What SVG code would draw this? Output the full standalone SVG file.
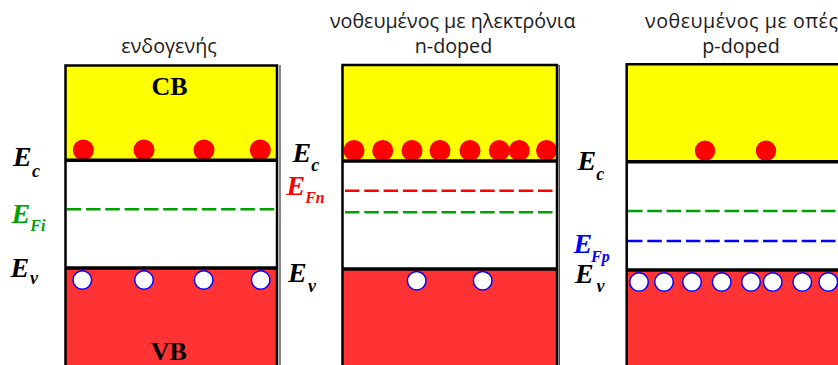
<svg xmlns="http://www.w3.org/2000/svg" width="838" height="365" viewBox="0 0 838 365">
<style>
.cb{fill:#ffff00}
.gap{fill:#ffffff}
.vb{fill:#ff3333}
.frame{fill:none;stroke:#000;stroke-width:2.5}
.edge{fill:none;stroke:#000;stroke-width:3.5}
.sep{fill:none;stroke:#444;stroke-width:1.3}
.dash{fill:none;stroke-width:2.6;stroke-dasharray:14.5 4.8}
.g{stroke:#00a000}
.r{stroke:#ff0000}
.b{stroke:#0000ff}
.el{fill:#ff0000}
.hole{fill:#fff;stroke:#0000ff;stroke-width:1.5}
.title{font-family:"Open Sans","Noto Sans",sans-serif;font-size:19.7px;fill:#1a1a1a;text-anchor:middle}
.band{font-family:"Liberation Serif","Times New Roman",serif;font-weight:bold;font-size:26px;fill:#000;text-anchor:middle}
.E{font-family:"Liberation Serif","Times New Roman",serif;font-weight:bold;font-style:italic;font-size:28px}
.sub{font-family:"Liberation Serif","Times New Roman",serif;font-weight:bold;font-style:italic;font-size:18px}
.sub2{font-family:"Liberation Serif","Times New Roman",serif;font-weight:bold;font-style:italic;font-size:16px}
</style>

<g id="separators">
  <path class="sep" d="M280,65 V365"/>
  <path class="sep" d="M559.3,65 V365"/>
</g>

<g id="panel-intrinsic">
  <text class="title" x="169" y="53">ενδογενής</text>
  <rect class="cb" x="65.5" y="65.5" width="211.5" height="95"/>
  <rect class="gap" x="65.5" y="160.3" width="211.5" height="107.7"/>
  <rect class="vb" x="65.5" y="268" width="211.5" height="100"/>
  <path class="dash g" d="M66.7,209.3 H276"/>
  <circle class="el" cx="83.3" cy="150" r="10.5"/>
  <circle class="el" cx="144" cy="150" r="10.5"/>
  <circle class="el" cx="204" cy="150" r="10.5"/>
  <circle class="el" cx="260.3" cy="150" r="10.5"/>
  <path class="frame" d="M65.5,368 V65.5 H277 V368"/>
  <path class="edge" d="M65.5,160.3 H277"/>
  <path class="edge" d="M65.5,268 H277"/>
  <circle class="hole" cx="82.3" cy="280" r="9.3"/>
  <circle class="hole" cx="144" cy="280" r="9.3"/>
  <circle class="hole" cx="203.7" cy="280" r="9.3"/>
  <circle class="hole" cx="260.7" cy="280" r="9.3"/>
  <text class="band" x="169.5" y="95">CB</text>
  <text class="band" x="168.7" y="360">VB</text>
  <text class="E" x="13" y="165.5" fill="#000">E</text><text class="sub" x="32" y="176.5" fill="#000">c</text>
  <text class="E" x="11.5" y="222.7" fill="#00a000">E</text><text class="sub2" x="30.3" y="230.5" fill="#00a000">Fi</text>
  <text class="E" x="10.5" y="276.5" fill="#000">E</text><text class="sub" x="30" y="284" fill="#000">v</text>
</g>

<g id="panel-ndoped">
  <text class="title" x="452.7" y="28">νοθευμένος με ηλεκτρόνια</text>
  <text class="title" x="453.5" y="53">n-doped</text>
  <rect class="cb" x="342.5" y="65" width="214.5" height="96"/>
  <rect class="gap" x="342.5" y="161" width="214.5" height="108"/>
  <rect class="vb" x="342.5" y="269" width="214.5" height="100"/>
  <path class="dash r" d="M345,190.7 H556"/>
  <path class="dash g" d="M345,212.3 H556"/>
  <circle class="el" cx="354" cy="150.5" r="10.5"/>
  <circle class="el" cx="382.7" cy="150.5" r="10.5"/>
  <circle class="el" cx="412" cy="150.5" r="10.5"/>
  <circle class="el" cx="440" cy="150.5" r="10.5"/>
  <circle class="el" cx="470" cy="150.5" r="10.5"/>
  <circle class="el" cx="499.3" cy="150.5" r="10.5"/>
  <circle class="el" cx="519.3" cy="150.5" r="10.5"/>
  <circle class="el" cx="546.5" cy="150.5" r="10.5"/>
  <path class="frame" d="M342.5,368 V65 H557 V368"/>
  <path class="edge" d="M342.5,161 H557"/>
  <path class="edge" d="M342.5,269 H557"/>
  <circle class="hole" cx="416.7" cy="280.7" r="9.3"/>
  <circle class="hole" cx="482.7" cy="280.7" r="9.3"/>
  <text class="E" x="292.5" y="161.7" fill="#000">E</text><text class="sub" x="311.3" y="170.5" fill="#000">c</text>
  <text class="E" x="286.5" y="195" fill="#ff0000">E</text><text class="sub2" x="305.2" y="203" fill="#ff0000">Fn</text>
  <text class="E" x="288" y="281.7" fill="#000">E</text><text class="sub" x="308" y="292" fill="#000">v</text>
</g>

<g id="panel-pdoped">
  <text class="title" x="645" y="28" style="text-anchor:start;letter-spacing:0.5px">νοθευμένος με οπές</text>
  <text class="title" x="741" y="53">p-doped</text>
  <rect class="cb" x="626.7" y="64.3" width="215" height="97.4"/>
  <rect class="gap" x="626.7" y="161.7" width="215" height="108.3"/>
  <rect class="vb" x="626.7" y="270" width="215" height="100"/>
  <path class="dash g" d="M628,211 H840"/>
  <path class="dash b" d="M628,241 H840"/>
  <circle class="el" cx="705" cy="150.7" r="10.2"/>
  <circle class="el" cx="766" cy="150.7" r="10.2"/>
  <path class="frame" d="M626.7,368 V64.3 H842"/>
  <path class="edge" d="M626.7,161.7 H842"/>
  <path class="edge" d="M626.7,270 H842"/>
  <circle class="hole" cx="639" cy="282" r="9.3"/>
  <circle class="hole" cx="664" cy="282" r="9.3"/>
  <circle class="hole" cx="692" cy="282" r="9.3"/>
  <circle class="hole" cx="721.7" cy="282" r="9.3"/>
  <circle class="hole" cx="751" cy="282" r="9.3"/>
  <circle class="hole" cx="772.7" cy="282" r="9.3"/>
  <circle class="hole" cx="802.3" cy="282" r="9.3"/>
  <circle class="hole" cx="828.3" cy="282" r="9.3"/>
  <text class="E" x="577.5" y="170" fill="#000">E</text><text class="sub" x="596.2" y="179.5" fill="#000">c</text>
  <text class="E" x="573.5" y="252.7" fill="#0000ff">E</text><text class="sub2" x="591" y="262" fill="#0000ff">Fp</text>
  <text class="E" x="575" y="283.3" fill="#000">E</text><text class="sub" x="596.5" y="292" fill="#000">v</text>
</g>
</svg>
